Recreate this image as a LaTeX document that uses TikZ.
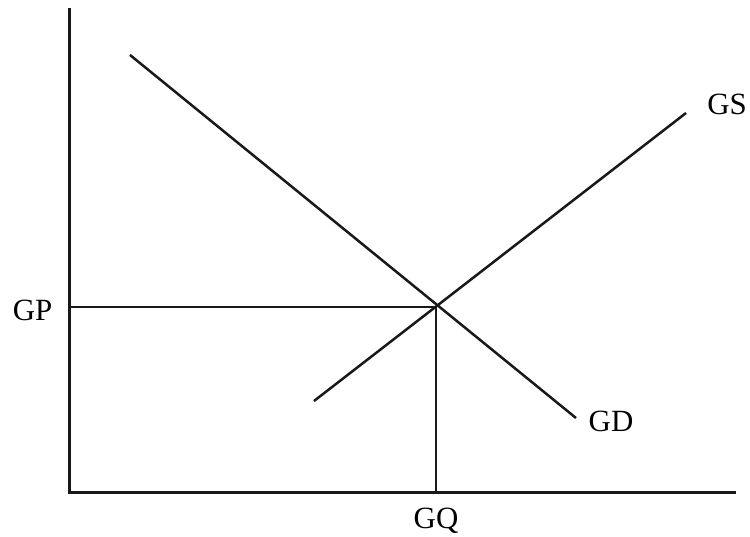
\documentclass[tikz,border=0pt]{standalone}
\usepackage{fontspec}
\setmainfont{Liberation Serif}
\begin{document}
\begin{tikzpicture}[x=1bp,y=-1bp,
  axis/.style={line width=3bp,black!90},
  curve/.style={line width=2.5bp,black!90},
  lbl/.style={font=\fontsize{31}{31}\selectfont,inner sep=0,anchor=base}]
\useasboundingbox[fill=white] (0,0) rectangle (750,537);
% axes
\coordinate (O) at (69,492);
\coordinate (ytop) at (69,8);
\coordinate (xend) at (736,492);
\draw[axis] (ytop) -- (O) -- (xend);
% curves
\coordinate (D1) at (130,55);
\coordinate (D2) at (576,418);
\coordinate (S1) at (314,401);
\coordinate (S2) at (686,113);
\coordinate (E) at (436,307);
\coordinate (Py) at (69,307);
\coordinate (Qx) at (436,492);
\draw[curve] (D1) -- (D2);
\draw[curve] (S1) -- (S2);
\draw[curve] (Py) -- (E) -- (Qx);
% labels
\node[lbl] (GP) at (32.5,320) {GP};
\node[lbl] (GQ) at (436,528) {GQ};
\node[lbl] (GS) at (727,115) {GS};
\node[lbl] (GD) at (611,431) {GD};
\end{tikzpicture}
\end{document}
